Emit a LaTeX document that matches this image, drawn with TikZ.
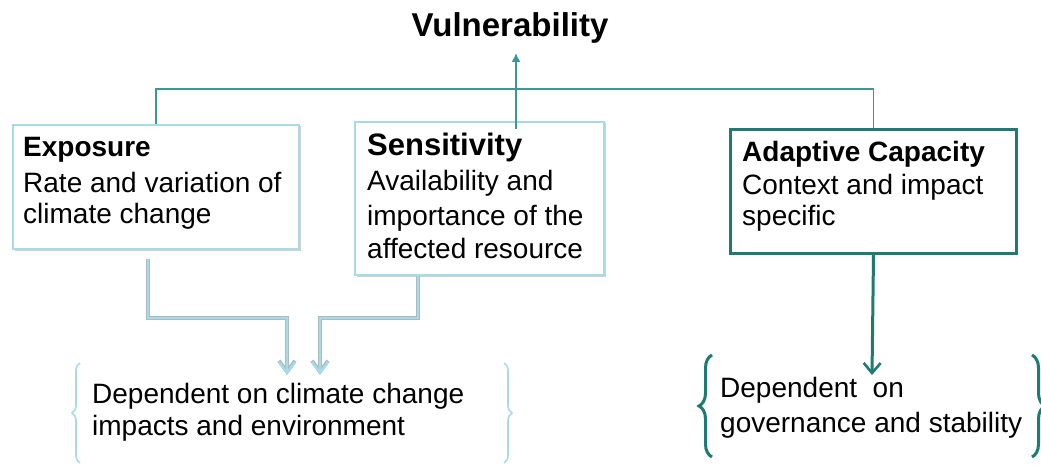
\documentclass[tikz,border=0pt]{standalone}
\usepackage{fontspec}
\setmainfont{Liberation Sans}
\usetikzlibrary{arrows.meta,decorations.pathreplacing,shadows}
\definecolor{lb}{HTML}{A8DAE7}
\definecolor{lbedge}{HTML}{A9BCC1}
\definecolor{tealbox}{HTML}{1D7B72}
\definecolor{tealline}{HTML}{3A9896}
\begin{document}
\begin{tikzpicture}[x=1pt,y=-1pt,
  lbbox/.style={draw=lb, fill=white, line width=2pt, inner sep=0pt, anchor=north west,
    drop shadow={shadow xshift=1.5pt, shadow yshift=-1.5pt, fill=black, opacity=0.18}},
  tbox/.style={draw=tealbox, fill=white, line width=3pt, inner sep=0pt, anchor=north west,
    drop shadow={shadow xshift=1.5pt, shadow yshift=-1.5pt, fill=black, opacity=0.18}},
  txt/.style={anchor=base west, inner sep=0pt, font=\fontsize{28}{33}\selectfont},
  ttl/.style={anchor=base west, inner sep=0pt, font=\fontsize{28}{33}\selectfont\bfseries},
  tline/.style={draw=tealline, line width=1.6pt},
  bedge/.style={draw=lbedge, line width=3.8pt, -{Straight Barb[length=11pt,width=16pt,line width=3.8pt]}},
  barrow/.style={draw=lb, line width=2.4pt, -{Straight Barb[length=11pt,width=16pt,line width=2.4pt]}},
  tarrow/.style={draw=tealbox, line width=3pt, -{Straight Barb[length=10pt,width=17pt,line width=2.6pt]}},
  lbrace/.style={draw=lb, line width=1.6pt, decorate, decoration={brace, amplitude=8pt}},
  tbrace/.style={draw=tealbox, line width=3pt, decorate, decoration={brace, amplitude=13pt}}
]
\useasboundingbox (0,0) rectangle (1041,468);

% title
\node[anchor=base, inner sep=0pt, font=\fontsize{33}{37}\selectfont\bfseries] (vul) at (510,37) {Vulnerability};

% boxes
\node[lbbox, minimum width=286pt, minimum height=124pt] (exp) at (12,124) {};
\node[lbbox, minimum width=249pt, minimum height=153pt] (sen) at (354,121) {};
\node[tbox, minimum width=286pt, minimum height=124pt] (ada) at (729,128) {};

% box texts
\node[ttl] (expt) at (23,157) {Exposure};
\node[txt] (exp1) at (23,192) {Rate and variation of};
\node[txt] (exp2) at (23,223) {climate change};

\node[ttl, font=\fontsize{31}{35}\selectfont\bfseries] (sent) at (367,155) {Sensitivity};
\node[txt] (sen1) at (367,190) {Availability and};
\node[txt] (sen2) at (367,225) {importance of the};
\node[txt] (sen3) at (367,258) {affected resource};

\node[ttl] (adat) at (742,161) {Adaptive Capacity};
\node[txt] (ada1) at (742,194) {Context and impact};
\node[txt] (ada2) at (742,225) {specific};

% bottom texts
\node[txt] (dl1) at (92,403) {Dependent on climate change};
\node[txt] (dl2) at (92,435) {impacts and environment};
\node[txt] (dr1) at (720,397) {Dependent\ \ on};
\node[txt] (dr2) at (720,432) {governance and stability};

% top connectors
\coordinate (bar) at (516,89);
\coordinate (vtip) at (516,53);
\draw[tline] (exp.north) |- (bar) -| (ada.north);
\draw[tline, -{Latex[length=9pt,width=9pt]}] (sen.north -| vtip) ++(0,8) -- (vtip);

% light blue arrows
\coordinate (es) at (148,259);
\coordinate (ss) at (418,300);
\coordinate (tipl) at (287,375);
\coordinate (tipr) at (320,375);
\draw[bedge] (es) |- (tipl |- 0,318) -- (tipl);
\draw[bedge] (sen.south -| ss) |- (tipr |- 0,318) -- (tipr);
\draw[barrow] (es) |- (tipl |- 0,318) -- (tipl);
\draw[barrow] (sen.south -| ss) |- (tipr |- 0,318) -- (tipr);

% teal arrow
\coordinate (tipa) at (872,375);
\draw[tarrow] (ada.south) -- (tipa);

% braces
\draw[lbrace] (80,463) -- (80,363);
\draw[lbrace] (504,363) -- (504,463);
\draw[tbrace] (712,457) -- (712,355);
\draw[tbrace] (1032,355) -- (1032,457);
\end{tikzpicture}
\end{document}
